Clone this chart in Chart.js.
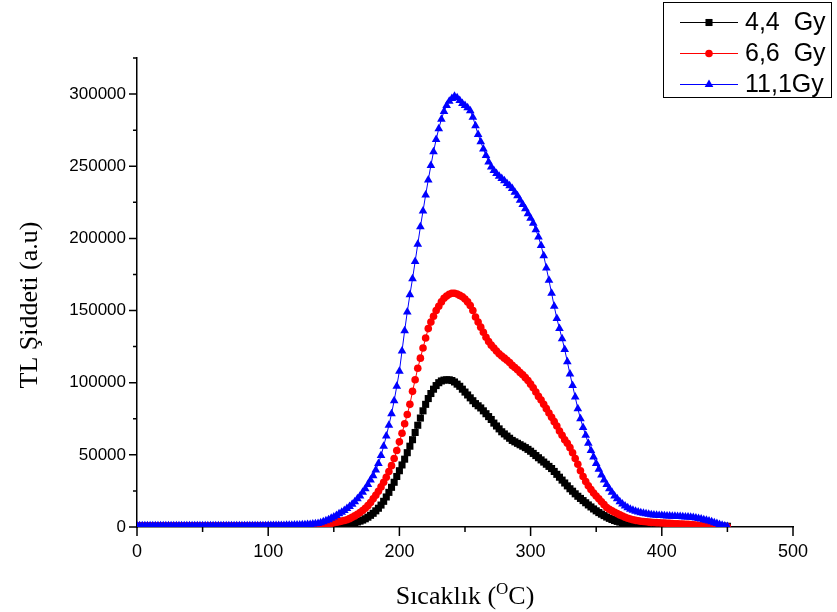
<!DOCTYPE html>
<html>
<head>
<meta charset="utf-8">
<script src="https://cdn.jsdelivr.net/npm/chart.js@4.4.0/dist/chart.umd.min.js"></script>
<style>
html, body { margin: 0; padding: 0; background: #fff; }
#wrap { width: 837px; height: 612px; }
</style>
</head>
<body>
<div id="wrap"><canvas id="tl-chart" width="837" height="612"></canvas></div>
<script>
// Temperature (°C), sampled every 2 degrees
const temps = [
    0, 2, 4, 6, 8, 10, 12, 14, 16, 18, 20, 22, 24, 26, 28, 30, 32, 34, 36, 38,
    40, 42, 44, 46, 48, 50, 52, 54, 56, 58, 60, 62, 64, 66, 68, 70, 72, 74, 76, 78,
    80, 82, 84, 86, 88, 90, 92, 94, 96, 98, 100, 102, 104, 106, 108, 110, 112, 114, 116, 118,
    120, 122, 124, 126, 128, 130, 132, 134, 136, 138, 140, 142, 144, 146, 148, 150, 152, 154, 156, 158,
    160, 162, 164, 166, 168, 170, 172, 174, 176, 178, 180, 182, 184, 186, 188, 190, 192, 194, 196, 198,
    200, 202, 204, 206, 208, 210, 212, 214, 216, 218, 220, 222, 224, 226, 228, 230, 232, 234, 236, 238,
    240, 242, 244, 246, 248, 250, 252, 254, 256, 258, 260, 262, 264, 266, 268, 270, 272, 274, 276, 278,
    280, 282, 284, 286, 288, 290, 292, 294, 296, 298, 300, 302, 304, 306, 308, 310, 312, 314, 316, 318,
    320, 322, 324, 326, 328, 330, 332, 334, 336, 338, 340, 342, 344, 346, 348, 350, 352, 354, 356, 358,
    360, 362, 364, 366, 368, 370, 372, 374, 376, 378, 380, 382, 384, 386, 388, 390, 392, 394, 396, 398,
    400, 402, 404, 406, 408, 410, 412, 414, 416, 418, 420, 422, 424, 426, 428, 430, 432, 434, 436, 438,
    440, 442, 444, 446, 448, 450
];

// TL intensity, 4,4 Gy
const dose44 = [
    500, 500, 500, 500, 500, 500, 500, 500, 500, 500, 500, 500, 500, 500, 500, 500, 500, 500, 500, 500,
    500, 500, 500, 500, 500, 500, 500, 500, 500, 500, 500, 500, 500, 500, 500, 500, 500, 500, 500, 500,
    500, 500, 500, 500, 500, 500, 500, 500, 500, 500, 500, 500, 500, 500, 500, 500, 500, 500, 500, 500,
    500, 510, 520, 530, 540, 550, 560, 570, 580, 590, 600, 650, 700, 800, 900, 1000, 1150, 1300, 1500, 1700,
    1950, 2250, 2600, 3000, 3500, 4100, 4800, 5700, 6800, 8100, 9500, 11200, 13000, 15200, 17800, 20800, 24000, 27500, 31000, 35000,
    39000, 43000, 47000, 51500, 56000, 60500, 65500, 70500, 75500, 80500, 85000, 89000, 92500, 95500, 98000, 100000, 101200, 101800, 102000, 102000,
    101500, 100500, 99000, 97500, 95500, 93500, 91500, 89500, 87500, 85500, 84000, 82500, 80500, 78500, 76500, 74500, 72000, 70000, 68000, 66000,
    64500, 63000, 61500, 60000, 59000, 58000, 57000, 56000, 55000, 53800, 52500, 51000, 49500, 48000, 46500, 45000, 43500, 42000, 40500, 38500,
    36500, 34500, 32500, 30500, 28500, 26500, 24800, 23000, 21300, 19800, 18300, 16800, 15300, 13900, 12500, 11200, 10000, 8900, 7900, 6900,
    6000, 5200, 4500, 3900, 3400, 2900, 2500, 2100, 1800, 1500, 1300, 1150, 1000, 900, 800, 750, 700, 650, 600, 600,
    550, 550, 550, 550, 550, 550, 550, 550, 550, 550, 500, 500, 500, 500, 500, 500, 500, 500, 500, 500,
    500, 500, 500, 500, 500, 500
];

// TL intensity, 6,6 Gy
const dose66 = [
    600, 600, 600, 600, 600, 600, 600, 600, 600, 600, 600, 600, 600, 600, 600, 600, 600, 600, 600, 600,
    600, 600, 600, 600, 600, 600, 600, 600, 600, 600, 600, 600, 600, 600, 600, 600, 600, 600, 600, 600,
    600, 600, 600, 600, 600, 600, 600, 600, 600, 600, 620, 630, 640, 650, 660, 680, 700, 720, 750, 780,
    820, 860, 900, 950, 1000, 1050, 1100, 1200, 1300, 1400, 1550, 1750, 2000, 2300, 2600, 2900, 3300, 3700, 4100, 4500,
    5000, 5800, 6700, 7700, 8800, 10000, 11400, 13000, 14800, 17000, 19500, 22000, 24800, 27800, 31000, 34500, 38500, 42500, 47500, 53000,
    59000, 65000, 71500, 78000, 85000, 94000, 102000, 110000, 117000, 124000, 131000, 137500, 142000, 146000, 150000, 153000, 156000, 158500, 160000, 161300,
    162000, 162000, 161500, 160500, 159500, 158000, 156000, 153500, 150000, 145500, 142000, 138500, 135000, 131500, 128500, 126000, 124000, 122000, 120000, 118500,
    117000, 115500, 114000, 112000, 110500, 109000, 107000, 105500, 103500, 101500, 99000, 96500, 93500, 90500, 88000, 85000, 82000, 79000, 76000, 73000,
    70000, 66500, 63500, 60500, 58000, 55000, 51500, 47500, 43500, 39000, 35000, 31500, 28500, 26000, 23500, 21500, 19500, 17500, 15500, 13500,
    12300, 11200, 10200, 9300, 8400, 7600, 6800, 6100, 5500, 5000, 4600, 4300, 4000, 3800, 3600, 3400, 3200, 3100, 3000, 2900,
    2800, 2700, 2600, 2500, 2400, 2300, 2200, 2100, 2000, 1900, 1800, 1700, 1500, 1300, 1100, 900, 700, 600, 500, 400,
    350, 300, 250, 200, 200, 200
];

// TL intensity, 11,1 Gy
const dose111 = [
    900, 900, 900, 900, 900, 900, 900, 900, 900, 900, 900, 900, 900, 900, 900, 900, 900, 900, 900, 900,
    900, 900, 900, 900, 900, 900, 900, 900, 900, 900, 900, 900, 900, 900, 900, 900, 900, 900, 900, 900,
    950, 950, 950, 950, 950, 950, 950, 950, 950, 950, 1000, 1000, 1000, 1050, 1050, 1100, 1100, 1150, 1200, 1250,
    1300, 1350, 1450, 1500, 1600, 1700, 1800, 2000, 2200, 2500, 3000, 3600, 4300, 5100, 6000, 7000, 8000, 9100, 10300, 11500,
    12800, 14200, 15800, 17500, 19500, 21500, 24000, 26500, 29500, 32500, 35500, 39500, 44000, 49500, 56000, 63000, 70500, 78500, 87500, 97500,
    108000, 122000, 136000, 149000, 161000, 172000, 184000, 196000, 208000, 219000, 230000, 240500, 250500, 260000, 268500, 276000, 282500, 288000, 292000, 295000,
    297000, 298500, 297500, 295500, 293500, 292000, 290500, 288500, 284000, 278000, 272000, 267000, 262000, 257500, 253000, 249500, 247000, 245000, 243000, 241500,
    240000, 238000, 236500, 234500, 232000, 229500, 226500, 223500, 220500, 217000, 214000, 210500, 206000, 201000, 195000, 188000, 179500, 171000, 162000, 153000,
    144500, 137500, 130500, 123000, 114500, 106000, 98000, 90000, 82000, 75000, 69000, 63500, 58000, 53000, 48500, 44000, 40000, 36000, 32500, 29500,
    26500, 24000, 21500, 19500, 17500, 16000, 14500, 13300, 12300, 11600, 11000, 10400, 9900, 9500, 9100, 8800, 8500, 8300, 8100, 8000,
    7900, 7800, 7700, 7600, 7500, 7400, 7300, 7200, 7100, 7000, 6900, 6700, 6500, 6200, 5900, 5500, 5100, 4700, 4200, 3600,
    3000, 2400, 1800, 1200, 700, 300
];

const seriesLabels = ['4,4  Gy', '6,6  Gy', '11,1Gy'];
const xTicks = [0, 100, 200, 300, 400, 500];
const xMinorTicks = [50, 150, 250, 350, 450];
const yTicks = [0, 50000, 100000, 150000, 200000, 250000, 300000];
const yMinorTicks = [25000, 75000, 125000, 175000, 225000, 275000, 325000];

const sansFont = '"Liberation Sans", Arial, sans-serif';
const serifFont = '"Liberation Serif", "Times New Roman", serif';

function toPoints(values) {
    return temps.map((t, i) => ({ x: t, y: values[i] }));
}

const datasets = [
    {
        label: seriesLabels[0],
        data: toPoints(dose44),
        borderColor: '#000000',
        backgroundColor: '#000000',
        pointStyle: 'rect',
        pointRadius: 5,
        order: 3
    },
    {
        label: seriesLabels[1],
        data: toPoints(dose66),
        borderColor: '#ff0000',
        backgroundColor: '#ff0000',
        pointStyle: 'circle',
        pointRadius: 3.8,
        order: 2
    },
    {
        label: seriesLabels[2],
        data: toPoints(dose111),
        borderColor: '#0000ff',
        backgroundColor: '#0000ff',
        pointStyle: 'triangle',
        pointRadius: 5,
        order: 1
    }
];
datasets.forEach(ds => {
    ds.borderWidth = 1;
    ds.pointBorderWidth = 0;
    ds.pointBackgroundColor = ds.backgroundColor;
    ds.fill = false;
    ds.tension = 0;
});

// Tick marks, axis titles and the boxed legend
const decorPlugin = {
    id: 'decor',
    afterDraw(chart) {
        const { ctx, scales: { x, y } } = chart;
        ctx.save();
        ctx.strokeStyle = '#000';
        ctx.lineWidth = 1.5;
        ctx.beginPath();
        xTicks.forEach(v => {
            const px = x.getPixelForValue(v);
            ctx.moveTo(px, y.bottom); ctx.lineTo(px, y.bottom + 9);
        });
        xMinorTicks.forEach(v => {
            const px = x.getPixelForValue(v);
            ctx.moveTo(px, y.bottom); ctx.lineTo(px, y.bottom + 5);
        });
        yTicks.forEach(v => {
            const py = y.getPixelForValue(v);
            ctx.moveTo(x.left, py); ctx.lineTo(x.left - 8, py);
        });
        yMinorTicks.forEach(v => {
            const py = y.getPixelForValue(v);
            ctx.moveTo(x.left, py); ctx.lineTo(x.left - 4, py);
        });
        ctx.stroke();

        // x title with superscript O
        ctx.fillStyle = '#000';
        ctx.textBaseline = 'alphabetic';
        const mainFont = '26px ' + serifFont;
        const supFont = '17px ' + serifFont;
        const partA = 'Sıcaklık (', partB = 'O', partC = 'C)';
        ctx.font = mainFont;
        const wA = ctx.measureText(partA).width, wC = ctx.measureText(partC).width;
        ctx.font = supFont;
        const wB = ctx.measureText(partB).width;
        let tx = 465 - (wA + wB + wC) / 2;
        const base = 604;
        ctx.font = mainFont;
        ctx.textAlign = 'left';
        ctx.fillText(partA, tx, base);
        tx += wA;
        ctx.font = supFont;
        ctx.fillText(partB, tx, base - 10);
        tx += wB;
        ctx.font = mainFont;
        ctx.fillText(partC, tx, base);

        // y title
        ctx.save();
        ctx.translate(30, 305);
        ctx.rotate(-Math.PI / 2);
        ctx.font = mainFont;
        ctx.textAlign = 'center';
        ctx.textBaseline = 'middle';
        ctx.fillText('TL Şiddeti (a.u)', 0, 0);
        ctx.restore();

        // legend
        ctx.lineWidth = 1;
        ctx.strokeStyle = '#000';
        ctx.strokeRect(663.5, 2.5, 168, 95);
        const rowsY = [22, 53, 84];
        [0, 1, 2].forEach(i => {
            const ds = chart.data.datasets[i];
            const ly = rowsY[i];
            ctx.strokeStyle = ds.borderColor;
            ctx.lineWidth = 1;
            ctx.beginPath();
            ctx.moveTo(680, ly + 0.5); ctx.lineTo(738, ly + 0.5);
            ctx.stroke();
            ctx.fillStyle = ds.backgroundColor;
            Chart.helpers.drawPoint(ctx, {
                pointStyle: ds.pointStyle, radius: ds.pointRadius, rotation: 0, borderWidth: 0
            }, 709, ly + 0.5);
            ctx.fillStyle = '#000';
            ctx.font = '25px ' + sansFont;
            ctx.textAlign = 'left';
            ctx.textBaseline = 'middle';
            ctx.fillText(ds.label, 745, ly + 1);
        });
        ctx.restore();
    }
};

new Chart(document.getElementById('tl-chart'), {
    type: 'line',
    data: { datasets: datasets },
    options: {
        responsive: false,
        animation: false,
        devicePixelRatio: 1,
        layout: { padding: { left: 0, top: 58, right: 44, bottom: 0 } },
        plugins: {
            legend: { display: false },
            tooltip: { enabled: false }
        },
        scales: {
            x: {
                type: 'linear',
                min: 0,
                max: 500,
                afterBuildTicks: s => { s.ticks = xTicks.map(v => ({ value: v })); },
                afterFit: s => { s.height = 85; },
                grid: { display: false, drawTicks: false },
                border: { display: true, color: '#000', width: 1.5 },
                ticks: {
                    padding: 14,
                    color: '#000',
                    maxRotation: 0,
                    autoSkip: false,
                    callback: v => String(v),
                    font: { family: sansFont, size: 18 }
                }
            },
            y: {
                type: 'linear',
                min: 0,
                max: 325000,
                afterBuildTicks: s => { s.ticks = yTicks.map(v => ({ value: v })); },
                afterFit: s => { s.width = 137; },
                grid: { display: false, drawTicks: false },
                border: { display: true, color: '#000', width: 1.5 },
                ticks: {
                    padding: 11,
                    color: '#000',
                    autoSkip: false,
                    callback: v => String(v),
                    font: { family: sansFont, size: 17 }
                }
            }
        }
    },
    plugins: [decorPlugin]
});
</script>
</body>
</html>
